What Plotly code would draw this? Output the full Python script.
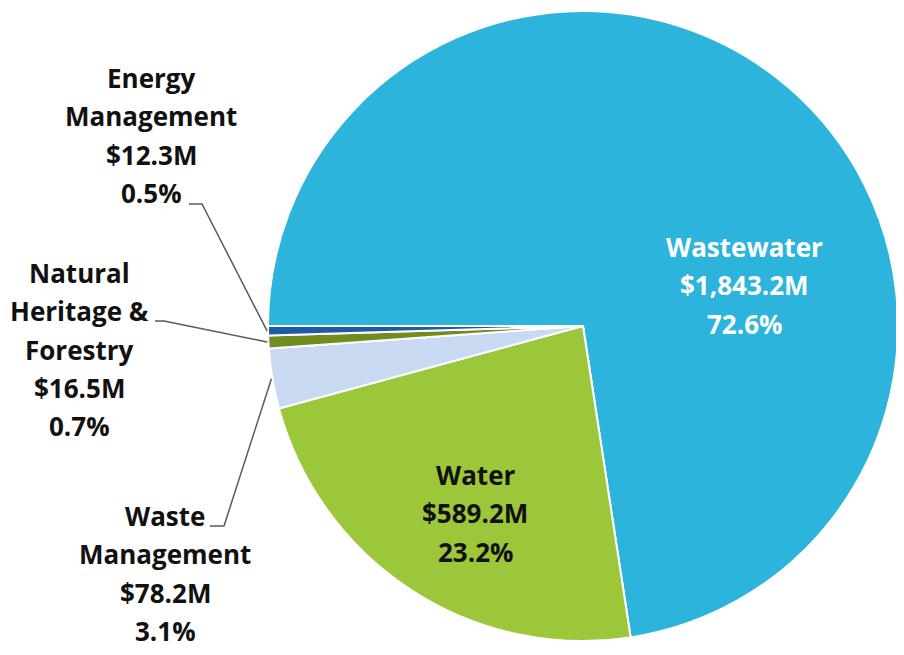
import math
import plotly.graph_objects as go

# ---- data ----
categories = ["Wastewater", "Water", "Waste Management", "Natural Heritage & Forestry", "Energy Management"]
values_musd = [1843.2, 589.2, 78.2, 16.5, 12.3]
percent_labels = ["72.6%", "23.2%", "3.1%", "0.7%", "0.5%"]
label_lines = [
    ["Wastewater", "$1,843.2M", "72.6%"],
    ["Water", "$589.2M", "23.2%"],
    ["Waste", "Management", "$78.2M", "3.1%"],
    ["Natural", "Heritage &", "Forestry", "$16.5M", "0.7%"],
    ["Energy", "Management", "$12.3M", "0.5%"],
]
colors = ["#2DB4DC", "#9DC73A", "#C9D9F2", "#728C1F", "#1E5AA8"]

W, H = 904, 655
OFF = 8  # default page body margin offsets the figure
CX, CY, R = 583, 326, 315  # pie centre / radius in page pixels

def px(x):
    return (x - OFF) / W

def py(y):
    return 1 - (y - OFF) / H

fig = go.Figure(go.Pie(
    labels=categories,
    values=values_musd,
    sort=False,
    direction="clockwise",
    rotation=270,
    marker=dict(colors=colors, line=dict(color="white", width=2)),
    textinfo="none",
    hoverinfo="label+value+percent",
    showlegend=False,
    domain=dict(x=[px(CX - R), px(CX + R)], y=[py(CY + R), py(CY - R)]),
))

# label layout (pixel positions of first line centre)
label_pos = [
    (744, 247, "white"),
    (475, 475, "#111111"),
    (165, 516, "#111111"),
    (79, 273, "#111111"),
    (151, 78, "#111111"),
]
STEP = 38.3
annotations = []
for lines, (lx, ly, col) in zip(label_lines, label_pos):
    for i, t in enumerate(lines):
        annotations.append(dict(
            x=px(lx), y=py(ly + i * STEP), xref="paper", yref="paper",
            text=t, showarrow=False, xanchor="center", yanchor="middle",
            font=dict(family="Open Sans", size=26, color=col, weight="bold"),
        ))

# leader lines to the small slices, anchored at slice mid-angles from data
total = sum(values_musd)
mid_angles = []
acc = 270.0
for v in values_musd:
    span = v / total * 360
    mid_angles.append(acc + span / 2)
    acc += span

def edge_point(angle_deg):
    a = math.radians(angle_deg)
    return CX + R * math.sin(a), CY - R * math.cos(a)

# (start point, elbow point) for each outside label
leaders = {
    2: [(210, 526), (224, 526)],
    3: [(155, 321), (164, 321)],
    4: [(189, 204), (202, 204)],
}
shapes = []
for idx, pts in leaders.items():
    ex, ey = edge_point(mid_angles[idx])
    path_pts = pts + [(ex - 1, ey)]
    d = "M " + " L ".join(f"{px(x)},{py(y)}" for x, y in path_pts)
    shapes.append(dict(type="path", path=d, xref="paper", yref="paper",
                       line=dict(color="#5A5A5A", width=1.5)))

fig.update_layout(
    width=W, height=H,
    margin=dict(l=0, r=0, t=0, b=0),
    paper_bgcolor="white", plot_bgcolor="white",
    annotations=annotations, shapes=shapes,
)

fig.write_html("out.html")
